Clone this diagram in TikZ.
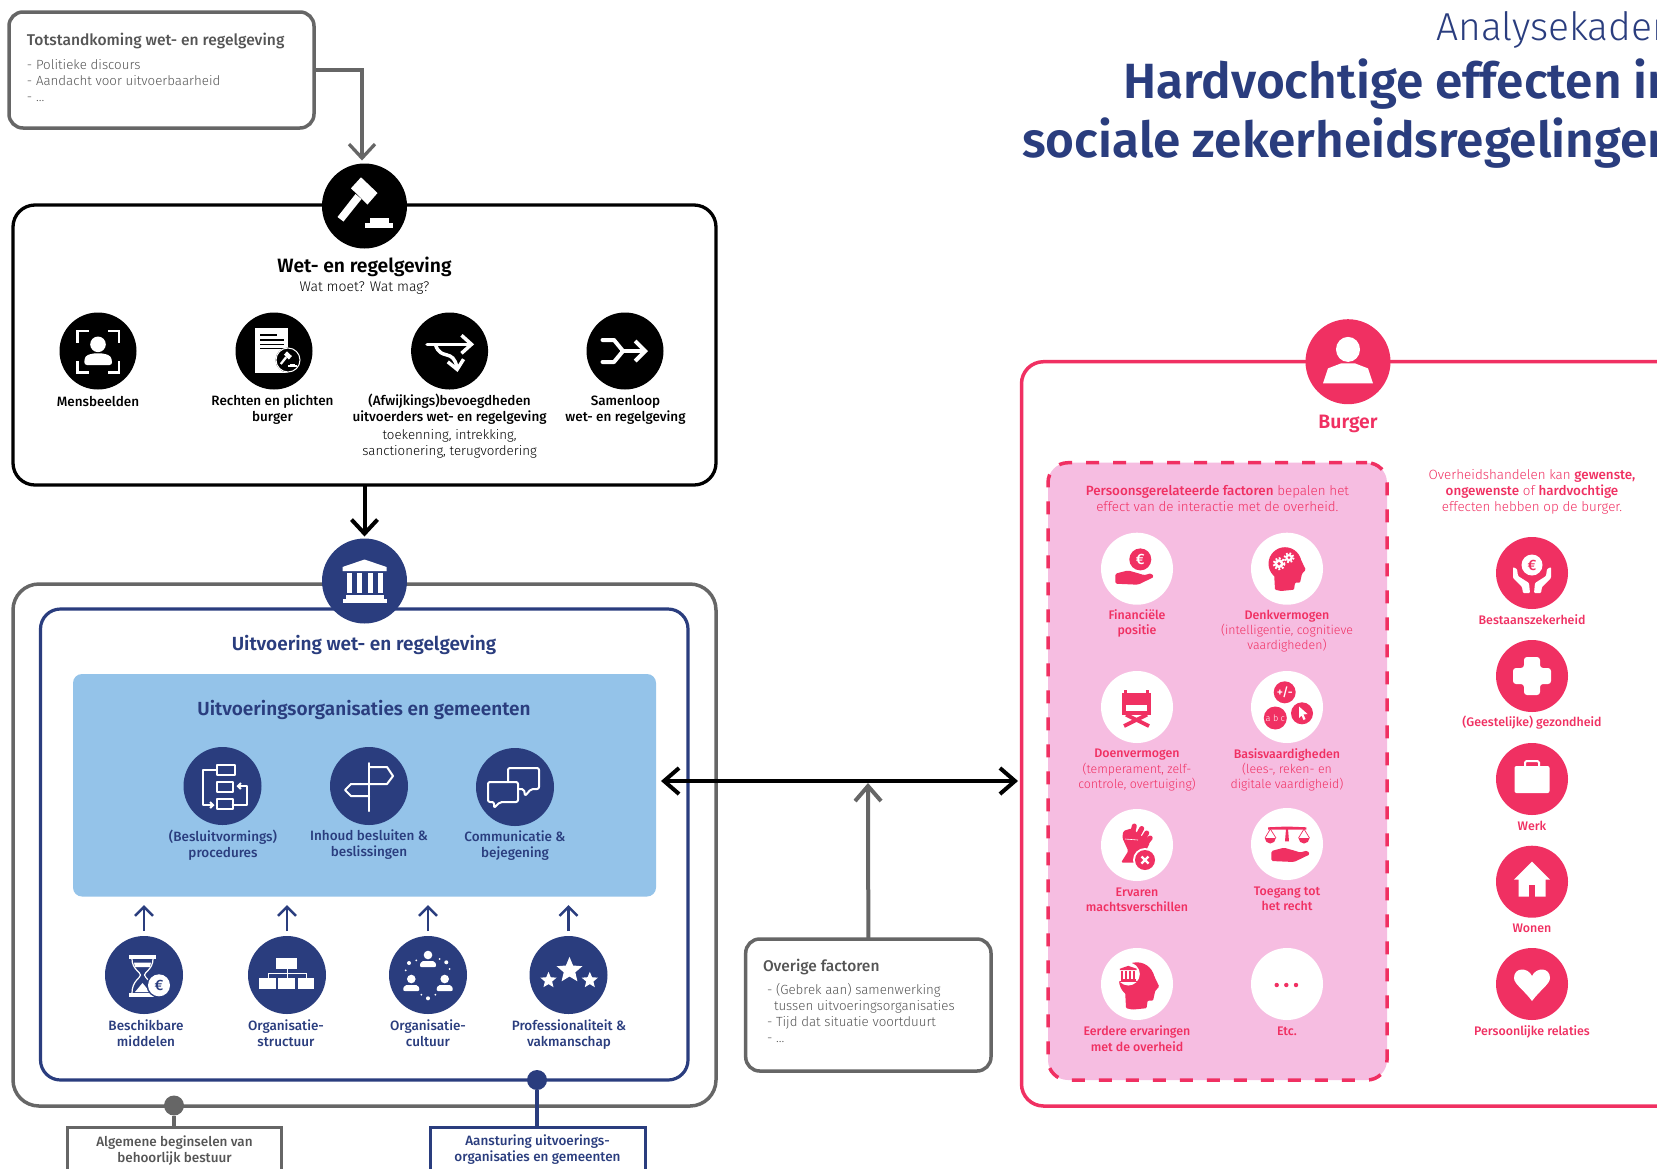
\documentclass[tikz,border=0pt]{standalone}
\usepackage{fontspec}
\setmainfont{Fira Sans}
\newfontfamily\lightf{Fira Sans Light}
\newfontfamily\medf{Fira Sans Medium}
\newfontfamily\semif{Fira Sans SemiBold}
\usetikzlibrary{arrows.meta}
\definecolor{navy}{HTML}{2A3D7E}
\definecolor{roze}{HTML}{F03062}
\definecolor{licht}{HTML}{F6BDE1}
\definecolor{lblauw}{HTML}{94C3E9}
\definecolor{grijs}{HTML}{666666}
\definecolor{tgrijs}{HTML}{555555}
\newcommand{\fs}[2]{\fontsize{#1}{#2}\selectfont}
\newcommand{\icstar}[4]{\fill[#4] (#1,#2) +(90:#3pt) -- +(54:#3*0.45pt) -- +(18:#3pt) -- +(-18:#3*0.45pt) -- +(-54:#3pt) -- +(-90:#3*0.45pt) -- +(-126:#3pt) -- +(-162:#3*0.45pt) -- +(162:#3pt) -- +(126:#3*0.45pt) -- cycle;}
\newcommand{\icgavel}[1]{%
 \fill[#1] (-3.5,-28.7) -- (13,-13) -- (3,-1.5) -- (-13.5,-17.7) -- cycle;
 \fill[#1] (-3,-7) -- (-21,15.5) -- (-27,11) -- (-9,-12) -- cycle;
 \fill[#1] (5,12) rectangle (24.5,17);
 \fill[#1] (0,16.5) rectangle (28.4,22);}
\newcommand{\icbank}[1]{%
 \fill[#1] (-22,-14) -- (0,-21.5) -- (22,-14) -- (22,-10) -- (-22,-10) -- cycle;
 \fill[#1] (-18,-8) rectangle (-13,12);
 \fill[#1] (-8,-8) rectangle (-3,12);
 \fill[#1] (3,-8) rectangle (8,12);
 \fill[#1] (13,-8) rectangle (18,12);
 \fill[#1] (-19,14) rectangle (19,18);
 \fill[#1] (-22,18) rectangle (22,22);}
\newcommand{\ichand}[1]{%
 \fill[#1,rounded corners=1.5pt] (-21.7,5) -- (-9,1.7) -- (2.7,5) -- (7,6.5) -- (14.3,4.5) -- (17,8.3) -- (1,16) -- (-21.7,15) -- cycle;}
\newcommand{\ichead}[1]{%
 \fill[#1] (-2,-5) circle (16.5);
 \fill[#1,rounded corners=1pt] (-13,3) -- (-12,21) -- (-6,22.3) -- (7,21) -- (8,14) -- (13,14) -- (15,5) -- (18.7,1) -- (13,-11) -- (0,-8) -- cycle;}
\tikzset{
 bigc/.style={circle,minimum size=85pt,inner sep=0pt,outer sep=0pt},
 midc/.style={circle,minimum size=78pt,inner sep=0pt,outer sep=0pt},
 pinkc/.style={circle,minimum size=72pt,inner sep=0pt,outer sep=0pt},
 frame/.style={draw,rounded corners=#1,inner sep=0pt,outer sep=0pt,fill=white},
 ttl/.style={inner sep=0pt,outer sep=0pt,align=center,font=\semif\fs{19}{20}},
 lab/.style={inner sep=0pt,outer sep=0pt,align=center,font=\medf\fs{13.5}{16}},
 pnk/.style={inner sep=0pt,outer sep=0pt,align=center,text=roze,font=\lightf\fs{12.4}{15.3}},
 phd/.style={inner sep=0pt,outer sep=0pt,align=center,text=roze,font=\lightf\fs{13.4}{16}},
 lst/.style={inner sep=0pt,outer sep=0pt,align=left,text=tgrijs,font=\lightf\fs{13.3}{16}},
 head/.style={inner sep=0pt,outer sep=0pt,align=left,text=tgrijs,font=\medf\fs{15.6}{16}},
 barbG/.style={-{Straight Barb[length=14pt,width=26pt]}},
 barbS/.style={-{Straight Barb[length=9pt,width=18pt]}},
 wline/.style={draw=white,line width=2pt,line join=round,line cap=round},
}
\begin{document}
\begin{tikzpicture}[x=1pt,y=-1pt]
\useasboundingbox (0,0) rectangle (1657,1168);
% titles
\node[anchor=base west,inner sep=0pt,text=navy,font=\lightf\fs{39}{40}] (t1) at (1436,40) {Analysekader};
\node[anchor=base west,inner sep=0pt,text=navy,font=\semif\fs{49.5}{50}] (t2) at (1123,98) {Hardvochtige effecten in};
\node[anchor=base west,inner sep=0pt,text=navy,font=\semif\fs{49.5}{50}] (t3) at (1022,157) {sociale zekerheidsregelingen};
% frames
\node[frame=14pt,draw=grijs,line width=3.5pt,minimum width=305pt,minimum height=116pt] (tot) at (161.5,70) {};
\node[frame=22pt,draw=black,line width=3.3pt,minimum width=703pt,minimum height=280pt] (wet) at (364.5,345) {};
\node[frame=26pt,draw=grijs,line width=3.5pt,minimum width=703pt,minimum height=522pt] (outer) at (364.5,845) {};
\node[frame=20pt,draw=navy,line width=3.2pt,minimum width=647.5pt,minimum height=471pt] (inner) at (364.25,844.5) {};
\node[rounded corners=9pt,fill=lblauw,inner sep=0pt,outer sep=0pt,minimum width=583pt,minimum height=222.5pt] (orgs) at (364.5,785.25) {};
\node[frame=14pt,draw=grijs,line width=3.5pt,minimum width=245.3pt,minimum height=132pt] (ovr) at (868.35,1005) {};
\node[frame=22pt,draw=roze,line width=3.5pt,minimum width=700pt,minimum height=744.3pt] (bgr) at (1371.5,733.85) {};
\node[rounded corners=20pt,fill=licht,draw=roze,line width=3.5pt,dash pattern=on 13pt off 14pt,dash phase=2pt,inner sep=0pt,outer sep=0pt,minimum width=339pt,minimum height=617.3pt] (pers) at (1217.5,771.35) {};
\node[draw=grijs,fill=white,line width=3pt,inner sep=0pt,outer sep=0pt,minimum width=214pt,minimum height=70pt] (abb) at (174.5,1162) {};
\node[draw=navy,fill=white,line width=3pt,inner sep=0pt,outer sep=0pt,minimum width=215pt,minimum height=70pt] (aan) at (537.5,1162) {};
% texts of frames
\node[head,anchor=west] (tott) at (27,41) {Totstandkoming wet- en regelgeving};
\node[lst,anchor=north west] (totl) at (27,59) {- Politieke discours\\- Aandacht voor uitvoerbaarheid\\- ...};
\node[ttl,font=\semif\fs{19.3}{20}] (wett) at (364.5,267) {Wet- en regelgeving};
\node[lab,font=\lightf\fs{14}{16}] (wets) at (364.5,288) {Wat moet? Wat mag?};
\node[ttl,text=navy] (inct) at (364,645) {Uitvoering wet- en regelgeving};
\node[ttl,text=navy] (orgt) at (364,710) {Uitvoeringsorganisaties en gemeenten};
\node[head,anchor=west,font=\medf\fs{15.5}{16}] (ovrt) at (763,967) {Overige factoren};
\node[lst,anchor=north west] (ovrl) at (767,983) {- (Gebrek aan) samenwerking\\\hspace*{7pt}tussen uitvoeringsorganisaties\\- Tijd dat situatie voortduurt\\- ...};
\node[lab,text=tgrijs] (abbt) at (174.5,1151) {Algemene beginselen van\\behoorlijk bestuur};
\node[lab,text=navy] (aant) at (537.5,1149.5) {Aansturing uitvoerings-\\organisaties en gemeenten};
\node[ttl,text=roze,font=\semif\fs{19.4}{20}] (bgrt) at (1348,423.7) {Burger};
\node[phd] (perst) at (1217.4,498.7) {{\medf Persoonsgerelateerde factoren} bepalen het\\effect van de interactie met de overheid.};
\node[phd] (ovht) at (1532,491.7) {Overheidshandelen kan {\medf gewenste,}\\{\medf ongewenste} of {\medf hardvochtige}\\effecten hebben op de burger.};
% circles top
\node[bigc,fill=black] (gavel) at (364.5,206) {};
\node[midc,fill=black,minimum size=77pt] (c1) at (98,351) {};
\node[midc,fill=black,minimum size=77pt] (c2) at (274,351) {};
\node[midc,fill=black,minimum size=77pt] (c3) at (449.6,351) {};
\node[midc,fill=black,minimum size=77pt] (c4) at (625,351) {};
\node[lab] (l1) at (98,401) {Mensbeelden};
\node[lab] (l2) at (272.5,409.5) {Rechten en plichten\\burger};
\node[lab] (l3) at (449.6,409.5) {(Afwijkings)bevoegdheden\\uitvoerders wet- en regelgeving};
\node[lst,text=black,align=center] (l3b) at (449.6,443.5) {toekenning, intrekking,\\sanctionering, terugvordering};
\node[lab] (l4) at (625.5,409.5) {Samenloop\\wet- en regelgeving};
% circles uitvoering
\node[bigc,fill=navy] (bank) at (364.5,581) {};
\node[midc,fill=navy] (p1) at (222.5,786) {};
\node[midc,fill=navy] (p2) at (369,786) {};
\node[midc,fill=navy] (p3) at (515,787) {};
\node[lab,text=navy] (lp1) at (223,845) {(Besluitvormings)\\procedures};
\node[lab,text=navy] (lp2) at (369,845) {Inhoud besluiten \&\\beslissingen};
\node[lab,text=navy] (lp3) at (515,846) {Communicatie \&\\bejegening};
\node[midc,fill=navy] (m1) at (144,975) {};
\node[midc,fill=navy] (m2) at (287,975) {};
\node[midc,fill=navy] (m3) at (428,975) {};
\node[midc,fill=navy] (m4) at (568.5,975) {};
\node[lab,text=navy] (lm1) at (146,1033.5) {Beschikbare\\middelen};
\node[lab,text=navy] (lm2) at (286,1033) {Organisatie-\\structuur};
\node[lab,text=navy] (lm3) at (428,1033.5) {Organisatie-\\cultuur};
\node[lab,text=navy] (lm4) at (569,1034.5) {Professionaliteit \&\\vakmanschap};
% burger circles
\node[bigc,fill=roze] (bcirc) at (1348,361.7) {};
\node[pinkc,fill=white] (f1) at (1137,568.7) {};
\node[pinkc,fill=white] (f2) at (1287,568.7) {};
\node[pinkc,fill=white] (f3) at (1137,707) {};
\node[pinkc,fill=white] (f4) at (1287,707) {};
\node[pinkc,fill=white] (f5) at (1137,845) {};
\node[pinkc,fill=white] (f6) at (1287,844) {};
\node[pinkc,fill=white] (f7) at (1137,984) {};
\node[pinkc,fill=white] (f8) at (1287,984) {};
\node[pnk] (lf1) at (1137,623.5) {{\medf Financiële}\\{\medf positie}};
\node[pnk] (lf2) at (1287,631) {{\medf Denkvermogen}\\(intelligentie, cognitieve\\vaardigheden)};
\node[pnk] (lf3) at (1137,770) {{\medf Doenvermogen}\\(temperament, zelf-\\controle, overtuiging)};
\node[pnk] (lf4) at (1287,770) {{\medf Basisvaardigheden}\\(lees-, reken- en\\digitale vaardigheid)};
\node[pnk] (lf5) at (1137,900) {{\medf Ervaren}\\{\medf machtsverschillen}};
\node[pnk] (lf6) at (1287,899) {{\medf Toegang tot}\\{\medf het recht}};
\node[pnk] (lf7) at (1137,1038.5) {{\medf Eerdere ervaringen}\\{\medf met de overheid}};
\node[pnk] (lf8) at (1287,1031) {{\medf Etc.}};
\node[pinkc,fill=roze] (e1) at (1532,573) {};
\node[pinkc,fill=roze] (e2) at (1532,676) {};
\node[pinkc,fill=roze] (e3) at (1532,779) {};
\node[pinkc,fill=roze] (e4) at (1532,881.7) {};
\node[pinkc,fill=roze] (e5) at (1532,984) {};
\node[pnk] (le1) at (1532,620) {{\medf Bestaanszekerheid}};
\node[pnk] (le2) at (1532,723) {{\medf (Geestelijke) gezondheid}};
\node[pnk] (le3) at (1532,825.7) {{\medf Werk}};
\node[pnk] (le4) at (1532,928.5) {{\medf Wonen}};
\node[pnk] (le5) at (1532,1031.5) {{\medf Persoonlijke relaties}};
% connectors
\coordinate (dl) at (661,781);
\coordinate (dr) at (1018,781);
\coordinate (up) at (868,783);
\draw[grijs,line width=3.3pt,barbG,shorten >=3pt] (tot.east) -| ([xshift=-2.5pt]gavel.north);
\draw[black,line width=4pt,barbG,shorten >=2pt] (wet.south) -- (bank.north);
\draw[black,line width=4pt,{Straight Barb[length=15pt,width=26pt]}-{Straight Barb[length=15pt,width=26pt]}] (dl) -- (dr);
\draw[grijs,line width=4pt,-{Straight Barb[length=15pt,width=26pt]}] (ovr.north) -- (up);
\foreach \m in {m1,m2,m3,m4}{
 \draw[navy,line width=2.5pt,barbS,shorten <=5pt,shorten >=8.5pt] (\m.north) -- (\m.north |- orgs.south);
}
\node[circle,fill=grijs,minimum size=20pt,inner sep=0pt] (gd) at (174,1105.5) {};
\node[circle,fill=navy,minimum size=20pt,inner sep=0pt] (bd) at (537,1080) {};
\draw[grijs,line width=3.5pt] (gd) -- (gd |- abb.north);
\draw[navy,line width=3.5pt] (bd) -- (bd |- aan.north);
% ---------- icons ----------
\begin{scope}[shift={(364.5,206)}]\icgavel{white}\end{scope}
\begin{scope}[shift={(364.5,581)}]\icbank{white}\end{scope}
% Mensbeelden
\begin{scope}[shift={(98,351)}]
 \draw[wline,line width=2.5pt,line cap=butt,line join=miter] (-20.6,-8.5) -- (-20.6,-20) -- (-9,-20);
 \draw[wline,line width=2.5pt,line cap=butt,line join=miter] (21,-8.5) -- (21,-20) -- (9.5,-20);
 \draw[wline,line width=2.5pt,line cap=butt,line join=miter] (-20.6,10) -- (-20.6,21.3) -- (-9,21.3);
 \draw[wline,line width=2.5pt,line cap=butt,line join=miter] (21,10) -- (21,21.3) -- (9.5,21.3);
 \fill[white] (0,-6.7) circle (7.8);
 \fill[white,rounded corners=3pt] (-14,14) -- (-13,5) -- (-5,2.3) -- (5,2.3) -- (13,5) -- (14.5,14) -- cycle;
\end{scope}
% Rechten
\begin{scope}[shift={(274,351)}]
 \fill[white] (-19,-22.7) rectangle (14,21.7);
 \foreach \yy/\xx in {-16/3,-11/10,-6.7/10,-2.7/10}{\draw[black,line width=1.3pt] (-14,\yy) -- (\xx,\yy);}
 \fill[black] (14,9) circle (12.5);
 \draw[white,line width=1pt] (14,9) circle (12);
 \begin{scope}[shift={(14,9)},scale=0.3]\icgavel{white}\end{scope}
\end{scope}
% Afwijkingen
\begin{scope}[shift={(449.6,351)}]
 \draw[white,line width=3.5pt,line cap=round,-{Straight Barb[length=10pt,width=18pt]}] (-22.5,-6.7) -- (24.5,-6.7);
 \draw[white,line width=3.5pt,line cap=round,-{Straight Barb[length=9pt,width=16pt]}] (-14,-6) .. controls (-9,10) and (4,-3) .. (8,21);
\end{scope}
% Samenloop
\begin{scope}[shift={(625,351)}]
 \draw[white,line width=4pt,line cap=round,line join=round] (-22.5,-11) -- (-11,-11) -- (-2,0) -- (-11,11) -- (-22.5,11);
 \draw[white,line width=4pt,line cap=round,-{Straight Barb[length=10pt,width=20pt]}] (-2,0) -- (23,0);
\end{scope}
% Procedures
\begin{scope}[shift={(222.5,786)}]
 \draw[wline] (-6,-20.6) rectangle (12,-10.7);
 \draw[wline] (-6,-4) rectangle (10,6);
 \draw[wline] (-6,13) rectangle (10,23);
 \draw[wline,-{Straight Barb[length=3pt,width=6pt]}] (-6,-16) -- (-20,-16) -- (-20,19) -- (-8,19);
 \draw[wline,-{Straight Barb[length=3pt,width=6pt]}] (10,19) -- (24,19) -- (24,0) -- (14,0);
\end{scope}
% Signpost
\begin{scope}[shift={(369,786)}]
 \draw[wline] (0,-23) -- (0,25);
 \draw[wline] (0,-19) -- (18,-19) -- (24,-10) -- (18,-2) -- (0,-2);
 \draw[wline] (0,-2) -- (-18,-2) -- (-24,4) -- (-18,10) -- (0,10);
\end{scope}
% Chat
\begin{scope}[shift={(515,787)}]
 \draw[wline,rounded corners=2pt,fill=navy] (-7,-19) -- (24,-19) -- (24,2) -- (16,2) -- (10,9) -- (9,2) -- (-7,2) -- cycle;
 \draw[wline,rounded corners=2pt,fill=navy] (-27,-5) -- (3,-5) -- (3,15) -- (-15,15) -- (-21,21) -- (-21,15) -- (-27,15) -- cycle;
\end{scope}
% Hourglass
\begin{scope}[shift={(144,975)}]
 \fill[white] (-15.3,-19.7) rectangle (12.3,-16);
 \fill[white] (-15.3,18) rectangle (12.3,21.7);
 \draw[white,line width=1.2pt] (-12,-16) .. controls (-12,-6) and (-3.5,-3) .. (-3.5,0) .. controls (-3.5,3) and (-12,6) .. (-12,18);
 \draw[white,line width=1.2pt] (9,-16) .. controls (9,-6) and (0.5,-3) .. (0.5,0) .. controls (0.5,3) and (9,6) .. (9,18);
 \fill[white] (-10,-12.5) -- (7,-12.5) -- (6,-8) -- (-9,-8) -- cycle;
 \fill[white] (-1.5,8) -- (6,17) -- (-9,17) -- cycle;
 \fill[navy] (15,10.3) circle (12.5);
 \fill[white] (15,10.3) circle (11);
 \node[inner sep=0pt,text=navy,font=\medf\fs{15}{15}] (eu1) at (15,10.3) {€};
\end{scope}
% Org structure
\begin{scope}[shift={(287,975)}]
 \fill[white] (-10.7,-17) rectangle (10,-6);
 \fill[white] (-27.7,3) rectangle (-11.3,14);
 \fill[white] (-8.7,3) rectangle (7.7,14);
 \fill[white] (10.7,3) rectangle (27,14);
 \draw[white,line width=1pt] (0,-6) -- (0,3) (-19,3) -- (-19,-2) -- (19,-2) -- (19,3);
\end{scope}
% Culture
\begin{scope}[shift={(428,975)}]
 \foreach \px/\py in {0/-20,-16.7/4,16.7/4}{
  \fill[white] (\px,\py) circle (4.3);
  \fill[white,rounded corners=2pt] (\px-8.5,\py+12) -- (\px-7,\py+6) -- (\px+7,\py+6) -- (\px+8.5,\py+12) -- cycle;
 }
 \foreach \dx/\dy/\s in {-19/-12/2,-11.7/-14.7/1,-22.3/-4.7/1,18.3/-12.7/2,11.7/-16/1,21.7/-6/1,0/23.3/2,-6.7/19.7/1,7.3/19.7/1}{
  \fill[white] (\dx,\dy) circle (\s);
 }
\end{scope}
% Stars
\begin{scope}[shift={(568.5,975)}]
 \icstar{1}{-4.6}{13.5}{white}
 \icstar{-20}{5.3}{8.5}{white}
 \icstar{21.3}{5.3}{8.5}{white}
\end{scope}
% Burger
\begin{scope}[shift={(1348,361.7)}]
 \fill[white] (0,-12.3) ellipse (12 and 12.5);
 \fill[white] (-25,21.7) -- (-20,6.7) -- (-7,1.7) -- (7,1.7) -- (20,6.7) -- (25,21.7) -- cycle;
\end{scope}
% Financieel
\begin{scope}[shift={(1137,568.7)}]
 \fill[roze] (3.3,-9.3) circle (11);
 \node[inner sep=0pt,text=white,font=\medf\fs{15}{15}] (eu2) at (3.3,-9.3) {€};
 \ichand{roze}
\end{scope}
% Denkvermogen
\begin{scope}[shift={(1287,568.7)}]
 \ichead{roze}
 \fill[white] (-8,-5) circle (4.5);
 \draw[white,line width=2pt,dash pattern=on 1.8pt off 1.8pt] (-8,-5) circle (5.5);
 \fill[roze] (-8,-5) circle (1.8);
 \fill[white] (2,-11) circle (3.6);
 \draw[white,line width=2pt,dash pattern=on 1.8pt off 1.8pt] (2,-11) circle (4.6);
 \fill[roze] (2,-11) circle (1.5);
\end{scope}
% Doenvermogen
\begin{scope}[shift={(1137,707)}]
 \fill[roze] (-14.7,-14) rectangle (13.7,-2.3);
 \fill[roze] (-13,-17) rectangle (-10,-14);
 \fill[roze] (9,-17) rectangle (12,-14);
 \fill[roze] (-14.7,-2.3) rectangle (-11,4);
 \fill[roze] (10,-2.3) rectangle (13.7,4);
 \fill[roze] (-14.7,3.7) rectangle (13.7,7.7);
 \draw[roze,line width=3.8pt] (-13,19) -- (10,7.7) (12,19) -- (-11,7.7);
\end{scope}
% Basis
\begin{scope}[shift={(1287,707)}]
 \fill[roze] (-2.3,-14.7) circle (11);
 \fill[roze] (-11.7,11) circle (11.5);
 \fill[roze] (15,6.3) circle (11);
 \node[inner sep=0pt,text=white,font=\medf\fs{12}{12}] (pm) at (-2.3,-14.7) {+/-};
 \node[inner sep=0pt,text=white,font=\lightf\fs{9}{9}] (abc) at (-11.7,11) {a b c};
 \fill[white] (12,-0.5) -- (20.5,7) -- (16.5,7.5) -- (18.5,12) -- (16.5,13) -- (14.5,8.5) -- (12,11) -- cycle;
\end{scope}
% Fist
\begin{scope}[shift={(1137,845)}]
 \fill[roze,rounded corners=1.5pt] (-16,17.7) -- (-8.7,6) -- (-14.7,-7.3) -- (-13.7,-14) -- (-5.3,-16.7) -- (13,-2.3) -- (9.7,4.3) -- (0,17.7) -- cycle;
 \draw[roze,line width=5pt,line cap=round] (-4.7,-10.7) -- (-2.7,-19) (0.7,-9) -- (4.7,-16.5) (5.3,-4.7) -- (9.7,-12) (8,-0.7) -- (13.2,-7);
 \draw[white,line width=0.6pt] (-12,-6) -- (1,-5);
 \fill[white] (8,15) circle (12);
 \fill[roze] (8,15) circle (10);
 \draw[white,line width=2.2pt] (4.5,11.5) -- (11.5,18.5) (11.5,11.5) -- (4.5,18.5);
\end{scope}
% Toegang
\begin{scope}[shift={(1287,844)}]
 \fill[roze] (-19,-16.7) -- (0,-17.5) -- (19.3,-16.7) -- (19.3,-14.3) -- (-19,-14.3) -- cycle;
 \fill[roze] (-1,-15) -- (1,-15) -- (2,-2.7) -- (-2,-2.7) -- cycle;
 \draw[roze,line width=0.7pt] (-22,-6) -- (-16.7,-15) -- (-11,-6) (11.5,-6) -- (17,-15) -- (22.5,-6);
 \fill[roze] (-22.2,-6) arc (180:0:5.5) -- cycle;
 \fill[roze] (11.5,-6) arc (180:0:5.5) -- cycle;
 \begin{scope}[shift={(6,2)}]\ichand{roze}\end{scope}
\end{scope}
% Eerdere
\begin{scope}[shift={(1137,984)}]
 \begin{scope}[shift={(2,1.5)},scale=1.08]\ichead{roze}\end{scope}
 \fill[white] (-8.7,-10) circle (11.5);
 \begin{scope}[shift={(-8.7,-10)},scale=0.38]\icbank{roze}\end{scope}
\end{scope}
% Etc
\foreach \xx in {-10.3,-0.7,9}{\fill[roze] ([xshift=\xx pt,yshift=-1pt]f8.center) circle (2.2);}
% Bestaan
\begin{scope}[shift={(1532,573)}]
 \fill[white] (0,-8) circle (10.5);
 \node[inner sep=0pt,text=roze,font=\medf\fs{15}{15}] (eu3) at (0,-8) {€};
 \fill[white,rounded corners=1pt] (-19,-6) -- (-15,-4) -- (-14,3) -- (-3,10) -- (-2,20) -- (-9,20) -- (-10,14) -- (-19,5) -- cycle;
 \fill[white,rounded corners=1pt] (19,-6) -- (15,-4) -- (14,3) -- (3,10) -- (2,20) -- (9,20) -- (10,14) -- (19,5) -- cycle;
\end{scope}
% Gezondheid
\begin{scope}[shift={(1532,676)}]
 \fill[white,rounded corners=3pt] (-8,-19) -- (8,-19) -- (8,-8) -- (19,-8) -- (19,8) -- (8,8) -- (8,19) -- (-8,19) -- (-8,8) -- (-19,8) -- (-19,-8) -- (-8,-8) -- cycle;
\end{scope}
% Werk
\begin{scope}[shift={(1532,779)}]
 \fill[white,rounded corners=2pt] (-17.5,-13) rectangle (17.5,14);
 \draw[white,line width=2pt,rounded corners=1.5pt] (-7,-13) -- (-7,-18) -- (7,-18) -- (7,-13);
\end{scope}
% Wonen
\begin{scope}[shift={(1532,881.7)}]
 \fill[white] (0,-20) -- (18,-2) -- (13.5,-2) -- (13.5,15) -- (-13.5,15) -- (-13.5,-2) -- (-18,-2) -- cycle;
 \fill[roze] (-3,3.3) rectangle (3,15);
\end{scope}
% Heart
\begin{scope}[shift={(1532,984)}]
 \fill[white] (0,17) .. controls (-8,6) and (-18,0) .. (-18,-6) .. controls (-18,-17) and (-4,-17) .. (0,-8) .. controls (4,-17) and (18,-17) .. (18,-6) .. controls (18,0) and (8,6) .. (0,17) -- cycle;
\end{scope}
\end{tikzpicture}
\end{document}
